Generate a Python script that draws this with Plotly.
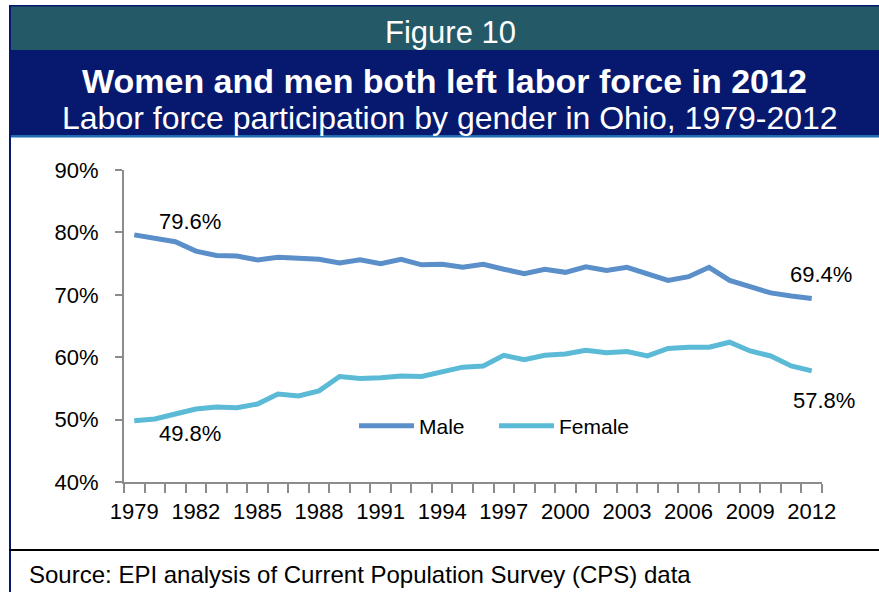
import plotly.graph_objects as go

years = list(range(1979, 2013))
male = [79.6, 79.0, 78.5, 77.0, 76.3, 76.2, 75.6, 76.0, 75.9, 75.7, 75.1, 75.6,
        75.0, 75.7, 74.8, 74.9, 74.4, 74.9, 74.1, 73.4, 74.1, 73.6, 74.5, 73.9,
        74.4, 73.4, 72.3, 72.9, 74.4, 72.3, 71.2, 70.3, 69.8, 69.4]
female = [49.8, 50.1, 50.9, 51.7, 52.0, 51.9, 52.5, 54.1, 53.8, 54.6, 56.9, 56.6,
          56.7, 57.0, 56.9, 57.6, 58.4, 58.6, 60.3, 59.6, 60.3, 60.5, 61.1, 60.7,
          60.9, 60.2, 61.4, 61.6, 61.6, 62.4, 61.0, 60.2, 58.6, 57.8]

header = "Figure 10"
title = "Women and men both left labor force in 2012"
subtitle = "Labor force participation by gender in Ohio, 1979-2012"
source = "Source: EPI analysis of Current Population Survey (CPS) data"

W, H = 879, 592
ML, MR, MT, MB = 124, 57, 170, 110
PW, PH = W - ML - MR, H - MT - MB
FONT = "Liberation Sans, Arial, sans-serif"
MALE_C = "#5A8FC9"
FEMALE_C = "#5BBAD5"
AX_C = "#8C8C8C"


def px(x):
    return (x - ML) / PW


def py(y):
    return (H - MB - y) / PH


fig = go.Figure()
fig.add_trace(go.Scatter(x=years, y=male, name="Male", mode="lines",
                         line=dict(color=MALE_C, width=5)))
fig.add_trace(go.Scatter(x=years, y=female, name="Female", mode="lines",
                         line=dict(color=FEMALE_C, width=5)))

shapes = []
# header blocks
shapes.append(dict(type="rect", xref="paper", yref="paper", x0=px(9), x1=px(880),
                   y0=py(135), y1=py(5), fillcolor="#06196E", line=dict(width=0), layer="below"))
shapes.append(dict(type="rect", xref="paper", yref="paper", x0=px(11), x1=px(880),
                   y0=py(50), y1=py(6.5), fillcolor="#245A67", line=dict(width=0), layer="below"))
shapes.append(dict(type="rect", xref="paper", yref="paper", x0=px(11), x1=px(880),
                   y0=py(137.5), y1=py(135), fillcolor="#1F6CB3", line=dict(width=0), layer="below"))
# left border
shapes.append(dict(type="rect", xref="paper", yref="paper", x0=px(9), x1=px(11),
                   y0=py(593), y1=py(5), fillcolor="#06196E", line=dict(width=0), layer="below"))
# bottom separator
shapes.append(dict(type="rect", xref="paper", yref="paper", x0=px(9), x1=px(880),
                   y0=py(551), y1=py(549), fillcolor="#000000", line=dict(width=0), layer="below"))

annotations = [
    dict(text=header, xref="paper", yref="paper", x=px(450), y=py(32), showarrow=False,
         font=dict(family=FONT, size=31, color="white"), xanchor="center", yanchor="middle"),
    dict(text="<b>" + title + "</b>", xref="paper", yref="paper", x=px(444), y=py(81), showarrow=False,
         font=dict(family=FONT, size=34, color="white"), xanchor="center", yanchor="middle"),
    dict(text=subtitle, xref="paper", yref="paper", x=px(450), y=py(118), showarrow=False,
         font=dict(family=FONT, size=32, color="white"), xanchor="center", yanchor="middle"),
    dict(text=source, xref="paper", yref="paper", x=px(27), y=py(574), showarrow=False,
         font=dict(family=FONT, size=24, color="black"), xanchor="left", yanchor="middle"),
    dict(text=f"{male[0]:.1f}%", x=years[0], y=male[0], xshift=56, yshift=13, showarrow=False,
         font=dict(family=FONT, size=22, color="black")),
    dict(text=f"{female[0]:.1f}%", x=years[0], y=female[0], xshift=56, yshift=-13, showarrow=False,
         font=dict(family=FONT, size=22, color="black")),
    dict(text=f"{male[-1]:.1f}%", x=years[-1], y=male[-1], xshift=9, yshift=24, showarrow=False,
         font=dict(family=FONT, size=22, color="black")),
    dict(text=f"{female[-1]:.1f}%", x=years[-1], y=female[-1], xshift=12, yshift=-30, showarrow=False,
         font=dict(family=FONT, size=22, color="black")),
]

fig.update_layout(
    width=W, height=H,
    margin=dict(l=ML, r=MR, t=MT, b=MB, pad=0),
    paper_bgcolor="white", plot_bgcolor="white",
    font=dict(family=FONT, size=22, color="black"),
    shapes=shapes, annotations=annotations,
    showlegend=True,
    legend=dict(orientation="h", x=px(354), y=py(426), xanchor="left", yanchor="middle",
                bgcolor="rgba(0,0,0,0)", font=dict(family=FONT, size=21, color="black"),
                itemwidth=55, entrywidth=70, entrywidthmode="pixels", tracegroupgap=0),
    xaxis=dict(range=[1978.5, 2012.5], tickmode="linear", tick0=1979, dtick=3,
               showgrid=False, zeroline=False, showline=True, linecolor=AX_C, linewidth=2,
               ticks="outside", ticklen=9, tickcolor="rgba(0,0,0,0)",
               tickfont=dict(family=FONT, size=22, color="black"),
               minor=dict(tickmode="linear", tick0=1978.5, dtick=1, ticks="outside",
                          ticklen=9, tickcolor=AX_C, tickwidth=1.5, showgrid=False)),
    yaxis=dict(range=[40, 90], tickmode="linear", tick0=40, dtick=10, ticksuffix="%",
               showgrid=False, zeroline=False, showline=True, linecolor=AX_C, linewidth=2,
               ticks="outside", ticklen=7, tickcolor=AX_C, tickwidth=1.5,
               tickfont=dict(family=FONT, size=22, color="black"), ticklabelstandoff=12),
)

fig.write_html("out.html", config={"displayModeBar": False},
               post_script="document.body.style.margin='0px';")
